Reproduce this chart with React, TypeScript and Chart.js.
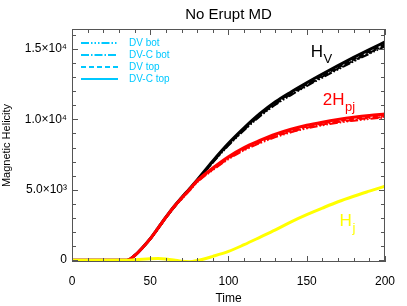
import React, { useEffect, useRef } from "react";
import { Chart, registerables } from "chart.js";

Chart.register(...registerables);

// ---- data ----
const time = [0, 10, 20, 30, 35, 40, 45, 50, 55, 60, 65, 70, 75, 80, 90, 100, 110, 120, 130, 140, 150, 160, 170, 180, 190, 200];

// H_V (black)
const hvDVCTop = [0, 0, 0, 0, 0, 330, 880, 1530, 2280, 3050, 3780, 4430, 5060, 5700, 7050, 8300, 9400, 10400, 11250, 11950, 12600, 13220, 13820, 14400, 14960, 15500];
const hvDVTop = [0, 0, 0, 0, 0, 320, 870, 1520, 2260, 3030, 3760, 4410, 5030, 5670, 7000, 8240, 9330, 10320, 11160, 11850, 12490, 13100, 13690, 14260, 14810, 15340];
const hvDVCBot = [0, 0, 0, 0, 0, 310, 860, 1500, 2240, 3010, 3730, 4380, 5000, 5630, 6960, 8190, 9270, 10260, 11090, 11780, 12420, 13030, 13610, 14180, 14730, 15260];
const hvDVBot = [0, 0, 0, 0, 0, 300, 850, 1490, 2230, 2990, 3710, 4360, 4970, 5600, 6930, 8150, 9230, 10210, 11040, 11730, 12370, 12970, 13550, 14120, 14660, 15190];

// 2H_pj (red)
const pjDVCTop = [0, 0, 0, 0, 0, 330, 880, 1530, 2280, 3050, 3780, 4410, 5020, 5650, 6550, 7350, 8000, 8500, 8950, 9300, 9580, 9800, 9990, 10150, 10280, 10380];
const pjDVTop = [0, 0, 0, 0, 0, 320, 870, 1520, 2260, 3030, 3760, 4380, 4980, 5600, 6490, 7280, 7920, 8420, 8860, 9200, 9480, 9700, 9880, 10040, 10170, 10270];
const pjDVCBot = [0, 0, 0, 0, 0, 310, 860, 1500, 2240, 3010, 3730, 4350, 4950, 5560, 6440, 7220, 7860, 8360, 8790, 9130, 9410, 9630, 9810, 9960, 10090, 10190];
const pjDVBot = [0, 0, 0, 0, 0, 300, 850, 1490, 2230, 2990, 3710, 4330, 4920, 5530, 6400, 7180, 7810, 8310, 8740, 9080, 9360, 9580, 9760, 9910, 10030, 10130];

// H_j (yellow)
const hjAll = [0, 0, 0, 0, 0, 30, 70, 100, 115, 90, 20, -80, -115, -30, 270, 620, 1100, 1620, 2150, 2720, 3230, 3700, 4150, 4540, 4900, 5250];

const xTicks = [0, 50, 100, 150, 200];
const yTicks = [0, 5000, 10000, 15000];
const yTickLabels = ["0", "5.0\u00d710\u00b3", "1.0\u00d710\u2074", "1.5\u00d710\u2074"];
const legendLabels = ["DV bot", "DV-C bot", "DV top", "DV-C top"];
const titleText = "No Erupt MD";

// ---- styles ----
const FONT = "'Liberation Sans', Arial, Helvetica, sans-serif";
const BLACK = "#000000";
const RED = "#ff0000";
const YELLOW = "#ffff00";
const CYAN = "#00c8ff";
const dashStyles: number[][] = [[8, 2, 1.5, 2, 1.5, 2, 1.5, 2], [8, 2, 1.5, 2], [5, 3], []];

const annotations = [
  { main: "H", sub: "V", t: 152.5, v: 14430, color: BLACK },
  { main: "2H", sub: "pj", t: 160.3, v: 11020, color: RED },
  { main: "H", sub: "j", t: 171.0, v: 2430, color: YELLOW },
];

function pts(vals: number[]) {
  return time.map((t, i) => ({ x: t, y: vals[i] }));
}

function series(vals: number[], color: string, dash: number[], width: number) {
  return {
    data: pts(vals),
    borderColor: color,
    backgroundColor: color,
    borderWidth: width,
    borderDash: dash,
    pointRadius: 0,
    fill: false,
    cubicInterpolationMode: "monotone" as const,
  };
}

const framePlugin = {
  id: "idlFrame",
  afterDatasetsDraw(chart: any) {
    const { ctx, chartArea: a, scales } = chart;
    const xs = scales.x;
    const ys = scales.y;
    ctx.save();
    ctx.strokeStyle = "#555555";
    ctx.lineWidth = 1;
    ctx.strokeRect(a.left + 0.5, a.top + 0.5, a.right - a.left - 1, a.bottom - a.top - 1);
    ctx.beginPath();
    for (let t = 0; t <= 200; t += 10) {
      const px = Math.round(xs.getPixelForValue(t)) + 0.5;
      const len = t % 50 === 0 ? 6 : 4;
      ctx.moveTo(px, a.bottom);
      ctx.lineTo(px, a.bottom - len);
      ctx.moveTo(px, a.top);
      ctx.lineTo(px, a.top + len);
    }
    for (let v = 0; v <= 16000; v += 1000) {
      const py = Math.round(ys.getPixelForValue(v)) + 0.5;
      const len = v % 5000 === 0 ? 6 : 4;
      ctx.moveTo(a.left, py);
      ctx.lineTo(a.left + len, py);
      ctx.moveTo(a.right, py);
      ctx.lineTo(a.right - len, py);
    }
    ctx.stroke();

    // legend
    ctx.strokeStyle = CYAN;
    ctx.fillStyle = CYAN;
    ctx.lineWidth = 2;
    ctx.font = `10px ${FONT}`;
    ctx.textBaseline = "middle";
    ctx.textAlign = "left";
    legendLabels.forEach((lab, i) => {
      const yy = a.top + 14 + i * 12;
      ctx.setLineDash(dashStyles[i]);
      ctx.beginPath();
      ctx.moveTo(a.left + 9, yy);
      ctx.lineTo(a.left + 46, yy);
      ctx.stroke();
      ctx.setLineDash([]);
      ctx.fillText(lab, a.left + 57, yy);
    });

    // annotations
    ctx.textBaseline = "alphabetic";
    annotations.forEach((an) => {
      const px = xs.getPixelForValue(an.t);
      const py = ys.getPixelForValue(an.v);
      ctx.fillStyle = an.color;
      ctx.font = `17px ${FONT}`;
      ctx.fillText(an.main, px, py);
      const w = ctx.measureText(an.main).width;
      ctx.font = `13px ${FONT}`;
      ctx.fillText(an.sub, px + w + 0.5, py + 6);
    });

    // title
    ctx.fillStyle = "#000";
    ctx.font = `15px ${FONT}`;
    ctx.textAlign = "center";
    ctx.textBaseline = "middle";
    ctx.fillText(titleText, (a.left + a.right) / 2, 15);
    ctx.restore();
  },
};

export default function App() {
  const ref = useRef<HTMLCanvasElement | null>(null);

  useEffect(() => {
    if (!ref.current) return;
    Chart.defaults.font.family = FONT;
    const datasets = [
      series(hjAll, YELLOW, [], 3),
      series(pjDVCTop, RED, [], 3),
      series(pjDVTop, RED, dashStyles[2], 2),
      series(pjDVCBot, RED, dashStyles[1], 2),
      series(pjDVBot, RED, dashStyles[0], 2),
      series(hvDVCTop, BLACK, [], 3),
      series(hvDVTop, BLACK, dashStyles[2], 2),
      series(hvDVCBot, BLACK, dashStyles[1], 2),
      series(hvDVBot, BLACK, dashStyles[0], 2),
    ];
    const chart = new Chart(ref.current, {
      type: "line",
      data: { datasets },
      options: {
        animation: false,
        responsive: false,
        maintainAspectRatio: false,
        layout: { padding: { top: 29, right: 18, left: 0, bottom: 0 } },
        plugins: {
          legend: { display: false },
          tooltip: { enabled: false },
          title: { display: false },
        },
        scales: {
          x: {
            type: "linear",
            min: 0,
            max: 200,
            grid: { display: false, drawTicks: false },
            border: { display: false },
            afterBuildTicks: (s: any) => {
              s.ticks = xTicks.map((v) => ({ value: v }));
            },
            afterFit: (s: any) => {
              s.height = 44;
            },
            ticks: {
              padding: 12,
              maxRotation: 0,
              autoSkip: false,
              color: "#000",
              font: { size: 12, family: FONT },
            },
            title: {
              display: true,
              text: "Time",
              color: "#000",
              font: { size: 12, family: FONT },
              padding: { top: 0, bottom: 0 },
            },
          },
          y: {
            type: "linear",
            min: -130,
            max: 16420,
            grid: { display: false, drawTicks: false },
            border: { display: false },
            afterBuildTicks: (s: any) => {
              s.ticks = yTicks.map((v) => ({ value: v }));
            },
            afterFit: (s: any) => {
              s.width = 72;
            },
            ticks: {
              padding: 5,
              autoSkip: false,
              color: "#000",
              font: { size: 12, family: FONT },
              callback: (v: any) => {
                const i = yTicks.indexOf(Number(v));
                return i >= 0 ? yTickLabels[i] : "";
              },
            },
            title: {
              display: true,
              text: "Magnetic Helicity",
              color: "#000",
              font: { size: 11, family: FONT },
              padding: { top: 0, bottom: 0 },
            },
          },
        },
      },
      plugins: [framePlugin],
    });
    return () => chart.destroy();
  }, []);

  return (
    <div style={{ position: "absolute", left: 0, top: 0, width: 407, height: 306, background: "#fff" }}>
      <canvas ref={ref} width={407} height={306} style={{ display: "block" }} />
    </div>
  );
}
